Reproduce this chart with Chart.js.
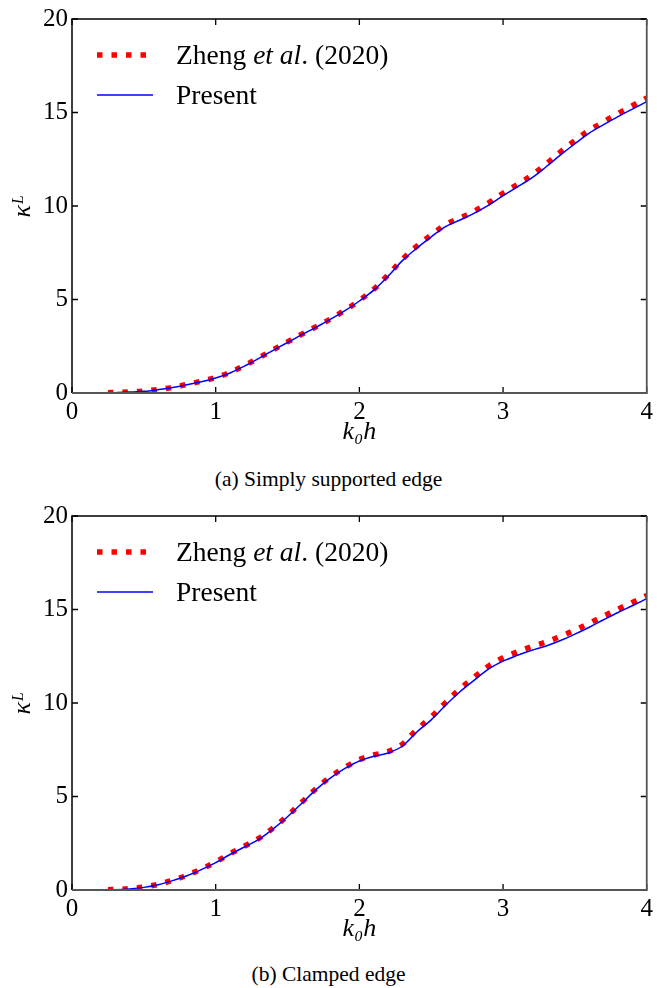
<!DOCTYPE html>
<html>
<head>
<meta charset="utf-8">
<script src="https://cdn.jsdelivr.net/npm/chart.js@4.4.1/dist/chart.umd.min.js"></script>
<style>
  body { margin: 0; background: #fff; width: 657px; height: 988px; position: relative; overflow: hidden; }
  .panel { position: absolute; left: 0; width: 657px; height: 460px; }
  .caption { position: absolute; left: 0; width: 657px; text-align: center; font-family: "Liberation Serif", "Times New Roman", serif; font-size: 21.5px; color: #000; }
</style>
</head>
<body>
<div class="panel" style="top:0"><canvas id="chartA"></canvas></div>
<div class="caption" style="top:467px">(a) Simply supported edge</div>
<div class="panel" style="top:497px"><canvas id="chartB"></canvas></div>
<div class="caption" style="top:962px">(b) Clamped edge</div>
<script>
// k0h grid for the present method, and for the reference (Zheng et al.) curve
const kh = [0.1, 0.2, 0.3, 0.4, 0.5, 0.6, 0.7, 0.8, 0.9, 1.0,
            1.1, 1.2, 1.3, 1.4, 1.5, 1.6, 1.7, 1.8, 1.9, 2.0,
            2.1, 2.2, 2.3, 2.4, 2.5, 2.6, 2.7, 2.8, 2.9, 3.0,
            3.1, 3.2, 3.3, 3.4, 3.5, 3.6, 3.7, 3.8, 3.9, 4.0];
const khRef = [0.25, 0.3, 0.4, 0.5, 0.6, 0.7, 0.8, 0.9, 1.0,
               1.1, 1.2, 1.3, 1.4, 1.5, 1.6, 1.7, 1.8, 1.9, 2.0,
               2.1, 2.2, 2.3, 2.4, 2.5, 2.6, 2.7, 2.8, 2.9, 3.0,
               3.1, 3.2, 3.3, 3.4, 3.5, 3.6, 3.7, 3.8, 3.9, 4.0];

// (a) simply supported edge
const presentA = [0, 0.01, 0.02, 0.05, 0.09, 0.18, 0.29, 0.44, 0.6, 0.8,
                  1.07, 1.44, 1.85, 2.28, 2.70, 3.12, 3.52, 3.95, 4.4, 4.92,
                  5.5, 6.25, 7.08, 7.75, 8.35, 8.9, 9.25, 9.62, 10.05, 10.55,
                  11.02, 11.5, 12.1, 12.73, 13.33, 13.9, 14.35, 14.78, 15.18, 15.58];
const zhengA = [0.02, 0.03, 0.06, 0.1, 0.19, 0.3, 0.46, 0.63, 0.83,
                1.1, 1.47, 1.88, 2.31, 2.73, 3.15, 3.55, 3.96, 4.43, 4.95,
                5.55, 6.32, 7.15, 7.85, 8.45, 9.0, 9.36, 9.72, 10.17, 10.68,
                11.15, 11.65, 12.25, 12.9, 13.5, 14.05, 14.5, 14.95, 15.36, 15.78];

// (b) clamped edge
const presentB = [0, 0.01, 0.02, 0.06, 0.14, 0.28, 0.5, 0.76, 1.09, 1.46,
                  1.90, 2.30, 2.71, 3.27, 3.92, 4.64, 5.38, 6.0, 6.5, 6.9,
                  7.15, 7.33, 7.7, 8.45, 9.1, 9.88, 10.6, 11.22, 11.82, 12.24,
                  12.55, 12.82, 13.05, 13.34, 13.68, 14.05, 14.45, 14.84, 15.2, 15.58];
const zhengB = [0.02, 0.03, 0.07, 0.16, 0.3, 0.52, 0.79, 1.12, 1.5,
                1.94, 2.34, 2.76, 3.32, 3.97, 4.7, 5.43, 6.06, 6.56, 6.97,
                7.22, 7.4, 7.8, 8.58, 9.25, 10.02, 10.75, 11.38, 11.98, 12.42,
                12.74, 13.02, 13.26, 13.56, 13.9, 14.27, 14.65, 15.02, 15.38, 15.75];

const seriesLabels = ['Zheng et al. (2020)', 'Present'];
const legendParts = [
  [['Zheng ', 'normal'], ['et al', 'italic'], ['. (2020)', 'normal']],
  [['Present', 'normal']]
];

const serif = "'Liberation Serif', 'Times New Roman', serif";

function pairs(xs, ys) {
  return xs.map((x, i) => ({ x: x, y: ys[i] }));
}

// box around the plot with inward ticks on all four sides
const frameTicks = {
  id: 'frameTicks',
  afterDatasetsDraw(chart) {
    const { ctx, chartArea: a, scales: { x, y } } = chart;
    ctx.save();
    ctx.lineCap = 'butt';
    ctx.strokeStyle = '#000';
    ctx.lineWidth = 1.3;
    x.ticks.forEach(t => {
      const px = x.getPixelForValue(t.value);
      ctx.beginPath();
      ctx.moveTo(px, a.bottom); ctx.lineTo(px, a.bottom - 6);
      ctx.moveTo(px, a.top); ctx.lineTo(px, a.top + 6);
      ctx.stroke();
    });
    y.ticks.forEach(t => {
      const py = y.getPixelForValue(t.value);
      ctx.beginPath();
      ctx.moveTo(a.left, py); ctx.lineTo(a.left + 6, py);
      ctx.moveTo(a.right, py); ctx.lineTo(a.right - 6, py);
      ctx.stroke();
    });
    // left + top in black
    ctx.lineWidth = 1.5;
    ctx.beginPath();
    ctx.moveTo(a.left, a.bottom); ctx.lineTo(a.left, a.top); ctx.lineTo(a.right, a.top);
    ctx.stroke();
    // bottom + right a bit grey
    ctx.strokeStyle = '#555';
    ctx.lineWidth = 1.8;
    ctx.beginPath();
    ctx.moveTo(a.left, a.bottom); ctx.lineTo(a.right, a.bottom); ctx.lineTo(a.right, a.top);
    ctx.stroke();
    ctx.restore();
  }
};

// legend with italic "et al"
const texLegend = {
  id: 'texLegend',
  afterDatasetsDraw(chart) {
    const { ctx, chartArea: a } = chart;
    chart.data.datasets.forEach((ds, i) => {
      const yy = a.top + 36 + i * 40;
      ctx.save();
      ctx.strokeStyle = ds.borderColor;
      ctx.lineWidth = ds.borderWidth;
      ctx.setLineDash(ds.borderDash || []);
      ctx.beginPath();
      ctx.moveTo(a.left + 25, yy);
      ctx.lineTo(a.left + 25 + (ds.borderDash ? 50 : 56), yy);
      ctx.stroke();
      ctx.fillStyle = '#000';
      ctx.textBaseline = 'alphabetic';
      let tx = a.left + 104;
      legendParts[i].forEach(([txt, style]) => {
        ctx.font = style + ' 27.5px ' + serif;
        ctx.fillText(txt, tx, yy + 9);
        tx += ctx.measureText(txt).width;
      });
      ctx.restore();
    });
  }
};

function makeChart(id, zheng, present) {
  return new Chart(document.getElementById(id), {
    type: 'line',
    data: {
      datasets: [
        {
          label: seriesLabels[0],
          data: pairs(khRef, zheng),
          borderColor: '#ff0000',
          borderWidth: 5.5,
          borderDash: [5.5, 9],
          borderCapStyle: 'butt',
          pointRadius: 0,
          tension: 0.35,
          order: 1
        },
        {
          label: seriesLabels[1],
          data: pairs(kh, present),
          borderColor: '#0000ff',
          borderWidth: 1.5,
          pointRadius: 0,
          tension: 0.35,
          order: 0
        }
      ]
    },
    options: {
      responsive: true,
      maintainAspectRatio: false,
      animation: false,
      layout: { padding: { top: 17, right: 6, left: 0, bottom: 0 } },
      plugins: { legend: { display: false }, tooltip: { enabled: false } },
      scales: {
        x: {
          type: 'linear',
          min: 0, max: 4,
          grid: { display: false, drawTicks: false },
          border: { display: false },
          ticks: { stepSize: 1, padding: 4, color: '#000', font: { family: serif, size: 25 } },
          title: { display: true, text: 'k₀h', color: '#000', padding: { top: 0, bottom: 12 },
                   font: { family: serif, size: 26, style: 'italic' } },
          afterFit(s) { s.height = 67; }
        },
        y: {
          min: 0, max: 20,
          grid: { display: false, drawTicks: false },
          border: { display: false },
          ticks: { stepSize: 5, padding: 4, color: '#000', font: { family: serif, size: 25 } },
          title: { display: true, text: 'κᴸ', color: '#000', padding: { top: 8, bottom: 0 },
                   font: { family: serif, size: 26, style: 'italic' } },
          afterFit(s) { s.width = 72; }
        }
      }
    },
    plugins: [frameTicks, texLegend]
  });
}

makeChart('chartA', zhengA, presentA);
makeChart('chartB', zhengB, presentB);
</script>
</body>
</html>
